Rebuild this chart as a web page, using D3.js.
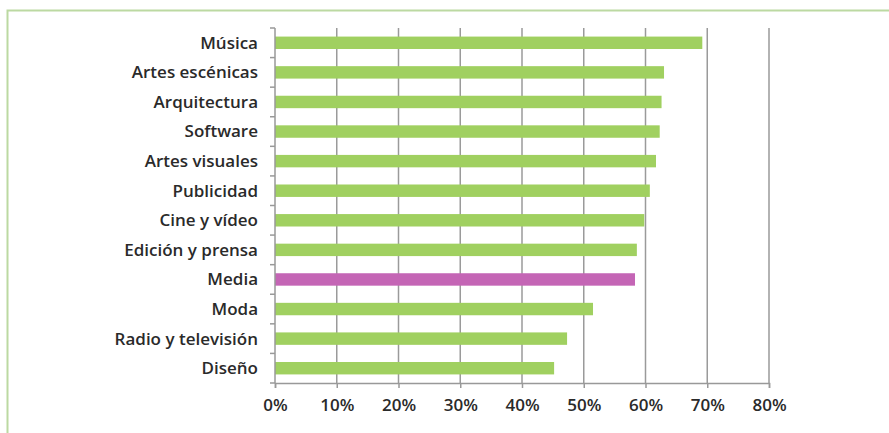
<!DOCTYPE html>
<html>
<head>
<meta charset="utf-8">
<script src="https://cdn.jsdelivr.net/npm/d3@7"></script>
<style>
  body { margin: 0; background: #fff; }
  text { font-family: "Open Sans", Lato, sans-serif; fill: #2a2a2a; font-weight: 600; }
</style>
</head>
<body>
<script>
const categories = ["Música", "Artes escénicas", "Arquitectura", "Software", "Artes visuales",
  "Publicidad", "Cine y vídeo", "Edición y prensa", "Media", "Moda", "Radio y televisión", "Diseño"];
const values = [0.692, 0.630, 0.626, 0.623, 0.617, 0.607, 0.598, 0.586, 0.583, 0.515, 0.473, 0.452];
const highlight = "Media";
const ticks = [0, 0.1, 0.2, 0.3, 0.4, 0.5, 0.6, 0.7, 0.8];

const W = 889, H = 433;
const margin = { top: 28, right: 120, bottom: 50, left: 275 },
      width = 769 - margin.left,
      height = 383 - margin.top;

const svg = d3.select("body").append("svg")
    .attr("width", W)
    .attr("height", H);

// green frame
svg.append("path")
    .attr("d", `M${W},10.5 H7.5 V${H}`)
    .attr("fill", "none")
    .attr("stroke", "#bcd9a2")
    .attr("stroke-width", 2);

const g = svg.append("g")
    .attr("transform", `translate(${margin.left},${margin.top})`);

const x = d3.scaleLinear().domain([0, 0.8]).range([0, width]);
const y = d3.scaleBand().domain(categories).range([0, height]).paddingInner(0.58).paddingOuter(0.29);

// gridlines
g.selectAll(".grid")
    .data(ticks.slice(1))
    .enter().append("line")
    .attr("x1", d => x(d)).attr("x2", d => x(d))
    .attr("y1", 0).attr("y2", height)
    .attr("stroke", "#9a9a9a")
    .attr("stroke-width", 1.5);

g.selectAll(".bar")
    .data(categories)
    .enter().append("rect")
    .attr("x", 0)
    .attr("y", d => y(d))
    .attr("width", (d, i) => x(values[i]))
    .attr("height", y.bandwidth())
    .attr("fill", d => d === highlight ? "#c465b5" : "#a0d060");

// left axis with tick marks between categories
g.append("line")
    .attr("x1", 0).attr("x2", 0).attr("y1", 0).attr("y2", height)
    .attr("stroke", "#999").attr("stroke-width", 1.5);
const step = height / categories.length;
g.selectAll(".ytick")
    .data(d3.range(categories.length + 1))
    .enter().append("line")
    .attr("x1", -5).attr("x2", 0)
    .attr("y1", d => d * step).attr("y2", d => d * step)
    .attr("stroke", "#999").attr("stroke-width", 1.5);

g.selectAll(".ylabel")
    .data(categories)
    .enter().append("text")
    .attr("x", -17)
    .attr("y", d => y(d) + y.bandwidth() / 2)
    .attr("dy", "0.35em")
    .attr("text-anchor", "end")
    .style("font-size", "17px")
    .text(d => d);

// bottom axis
const xAxis = g.append("g")
    .attr("transform", `translate(0,${height})`)
    .call(d3.axisBottom(x).tickValues(ticks).tickSize(5).tickFormat(d3.format(".0%")));
xAxis.select(".domain").attr("stroke", "#999").attr("stroke-width", 1.5);
xAxis.selectAll(".tick line").attr("stroke", "#999").attr("stroke-width", 1.5);
xAxis.selectAll(".tick text")
    .attr("y", 16)
    .style("font-size", "17px")
    .style("font-family", "'Open Sans', Lato, sans-serif")
    .style("font-weight", "600")
    .attr("fill", "#2a2a2a");
</script>
</body>
</html>
